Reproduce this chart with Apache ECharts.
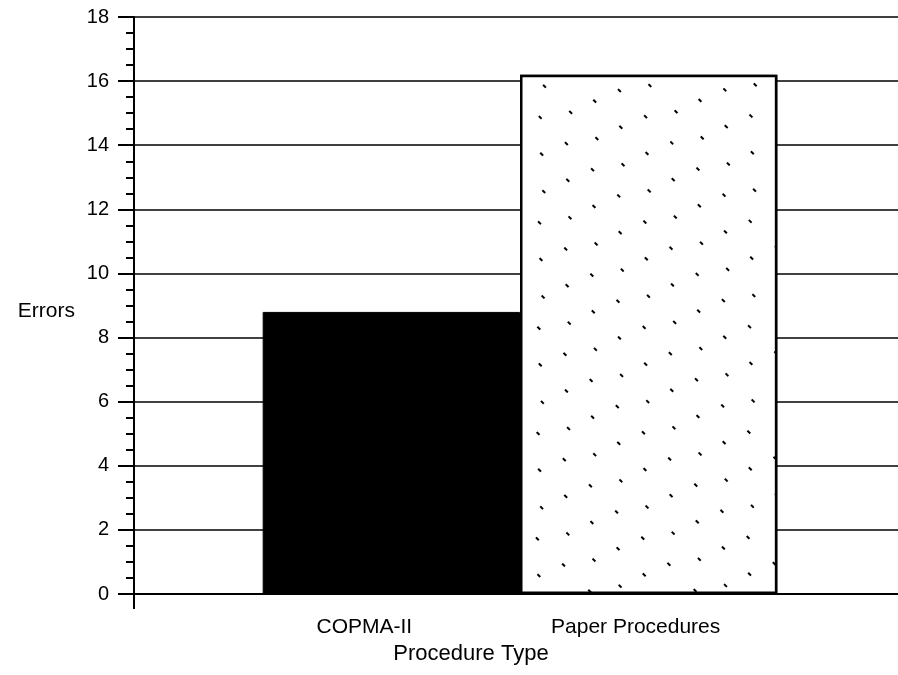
<!DOCTYPE html>
<html>
<head>
<meta charset="utf-8">
<script src="https://cdn.jsdelivr.net/npm/echarts@6/dist/echarts.min.js"></script>
<style>
html,body{margin:0;padding:0;background:#fff;}
#chart{width:898px;height:675px;}
</style>
</head>
<body>
<div id="chart"></div>
<script>
// Data
var categories = ['COPMA-II', 'Paper Procedures'];
var errors = [8.8, 16.2];
var yTicks = [0, 2, 4, 6, 8, 10, 12, 14, 16, 18];

// axis slots: a blank slot on each side so bars sit like the original
var axisCats = [''].concat(categories).concat(['']);
var labelPad = { 'COPMA-II': [0, 54, 0, 0], 'Paper Procedures': [0, 26, 0, 0] };

function seriesData(idx) {
  return axisCats.map(function (c, i) { return i === idx + 1 ? errors[idx] : null; });
}

var chart = echarts.init(document.getElementById('chart'), null, { renderer: 'canvas' });
var FONT = '"Liberation Sans", Arial, Helvetica, sans-serif';

chart.setOption({
  animation: false,
  backgroundColor: '#fff',
  grid: { left: 134, width: 772, top: 17, bottom: 81, containLabel: false, outerBoundsMode: 'none' },
  xAxis: {
    type: 'category',
    data: axisCats.map(function (c) {
      return labelPad[c] ? { value: c, textStyle: { padding: labelPad[c] } } : c;
    }),
    boundaryGap: false,
    axisLine: { lineStyle: { color: '#000', width: 2 } },
    axisTick: {
      show: true, length: 15, lineStyle: { color: '#000', width: 2 },
      interval: function (i) { return i === 0; }
    },
    axisLabel: { color: '#000', fontSize: 21, fontFamily: FONT, margin: 23, interval: 0 },
    splitLine: { show: false },
    name: 'Procedure Type',
    nameLocation: 'middle',
    nameGap: 40,
    nameTextStyle: { color: '#000', fontSize: 22, fontFamily: FONT, padding: [0, 98, 0, 0] }
  },
  yAxis: {
    type: 'value',
    min: yTicks[0],
    max: yTicks[yTicks.length - 1],
    interval: yTicks[1] - yTicks[0],
    axisLine: { show: true, lineStyle: { color: '#000', width: 2 } },
    axisTick: { show: true, length: 16, lineStyle: { color: '#000', width: 2 } },
    minorTick: { show: true, splitNumber: 4, length: 8, lineStyle: { color: '#000', width: 2 } },
    axisLabel: { color: '#000', fontSize: 20, fontFamily: FONT, margin: 25 },
    splitLine: { show: true, lineStyle: { color: '#000', width: 1.6 } },
    name: 'Errors',
    nameLocation: 'middle',
    nameRotate: 0,
    nameGap: 59,
    nameTextStyle: { color: '#000', fontSize: 21, fontFamily: FONT, align: 'right', verticalAlign: 'top', lineHeight: 12 }
  },
  series: [
    {
      type: 'bar',
      name: categories[0],
      stack: 'all',
      barWidth: '100%',
      data: seriesData(0),
      itemStyle: { color: '#000', borderColor: '#000', borderWidth: 1 }
    },
    {
      type: 'bar',
      name: categories[1],
      stack: 'all',
      barWidth: '100%',
      data: seriesData(1),
      itemStyle: {
        color: '#fff',
        borderColor: '#000',
        borderWidth: 2.5,
        decal: {
          symbol: 'rect',
          symbolSize: 1,
          color: '#000',
          backgroundColor: '#fff',
          dashArrayX: [[4, 33], [0, 19, 4, 14], [0, 9, 4, 24]],
          dashArrayY: [1.4, 23],
          rotation: Math.PI / 4
        }
      }
    }
  ]
});
</script>
</body>
</html>
